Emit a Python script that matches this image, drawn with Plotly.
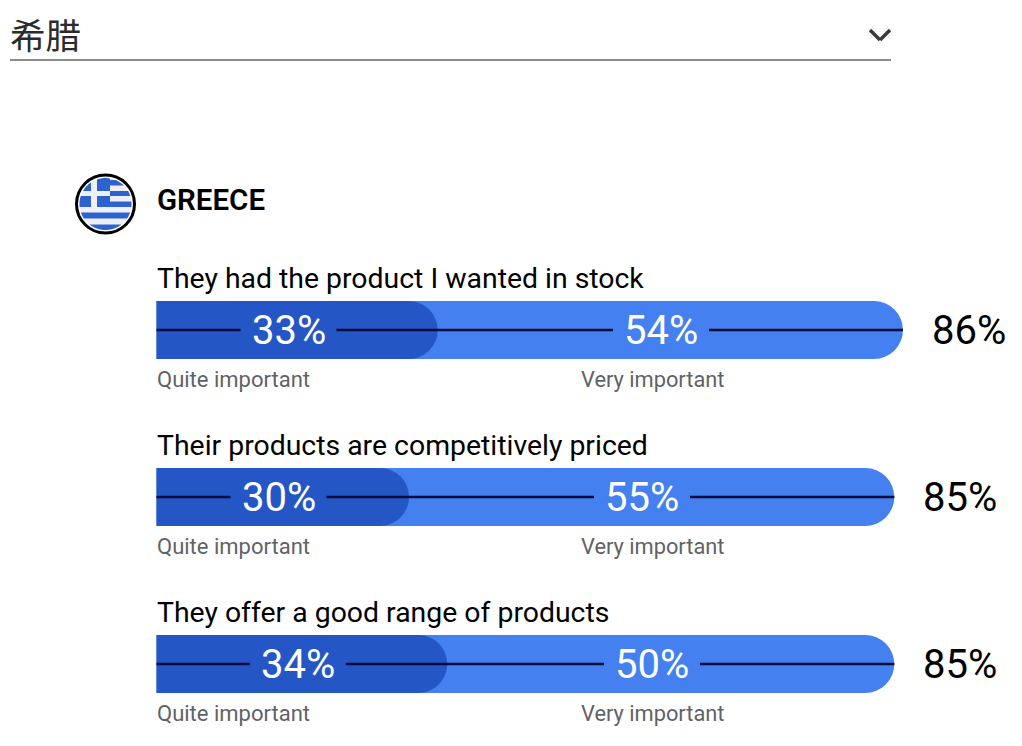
import math
import plotly.graph_objects as go

# ---- data ----
questions = ["They had the product I wanted in stock",
             "Their products are competitively priced",
             "They offer a good range of products"]
quite_labels = [33, 30, 34]
very_labels = [54, 55, 50]
total_labels = [86, 85, 85]
quite_bar = [32.4, 29.1, 33.5]      # bar length
total_bar = [86, 85, 85]
rows = [0, 1, 2]

# ---- layout (not data) ----
PAGE = 8               # the page's own margin round the figure
W, H = 1022 - PAGE, 746 - PAGE
X0, PX = 156.5 - PAGE, 8.68   # figure pixel of 0 %, pixels per %
Y0, DY = 330 - PAGE, 167      # figure pixel of the first row, pixels per row
BAR_H = 58
FONT = "Roboto"
CJK = "Noto Sans CJK SC"
DARK, BLUE = "#2457C5", "#4480F0"
INK = "#000000"
LINE = "#000A3C"
GREY = "#5F6368"
quite_center_px = [288.5, 278.5, 298]
very_center_px = [661, 642, 652]
GAP = 48


def xd(px):
    return (px - PAGE - X0) / PX


def pxx(px):
    return (px - PAGE) / W


def pxy(py):
    return 1 - (py - PAGE) / H


fig = go.Figure()
fig.add_bar(y=rows, x=total_bar, orientation="h", width=BAR_H / DY,
            marker=dict(color=BLUE, cornerradius=BAR_H / 2, line_width=0),
            hoverinfo="skip")
fig.add_bar(y=rows, x=quite_bar, orientation="h", width=BAR_H / DY, xaxis="x2", yaxis="y2",
            marker=dict(color=DARK, cornerradius=BAR_H / 2, line_width=0),
            hoverinfo="skip")

# leader lines with gaps for the value labels
lx, ly = [], []
for r, t, qc, vc in zip(rows, total_bar, quite_center_px, very_center_px):
    for a, b in ((0, xd(qc - GAP)), (xd(qc + GAP), xd(vc - GAP)), (xd(vc + GAP), t)):
        lx += [a, b, None]
        ly += [r, r, None]
fig.add_scatter(x=lx, y=ly, xaxis="x2", yaxis="y2", mode="lines",
                line=dict(color=LINE, width=2.5), hoverinfo="skip")

ann = []


def text(x, y, s, size, color=INK, anchor="left", family=FONT, xref="x", yref="y", weight=None):
    ann.append(dict(x=x, y=y, text=s, xref=xref, yref=yref, showarrow=False,
                    xanchor=anchor, yanchor="middle",
                    font=dict(size=size, color=color, family=family, weight=weight)))


for r, q, a, b, c, qc, vc, t in zip(rows, questions, quite_labels, very_labels, total_labels,
                                    quite_center_px, very_center_px, total_bar):
    text(-2 / PX, r - 52 / DY, q, 28.4)
    text(xd(qc), r, f"{a}%", 40, "#FFFFFF", "center")
    text(xd(vc), r, f"{b}%", 40, "#FFFFFF", "center")
    text(t + 27 / PX, r, f"{c}%", 40)
    text(-2 / PX, r + 49 / DY, "Quite important", 22, GREY)
    text(xd(579), r + 49 / DY, "Very important", 21.8, GREY)

text(pxx(8), pxy(34), "希腊", 35.5, "#2B2B2B", family=CJK, xref="paper", yref="paper")
text(pxx(155), pxy(200), "GREECE", 29.5, INK, xref="paper", yref="paper", weight=600)

shapes = []


def line(x0, y0, x1, y1, color, width):
    shapes.append(dict(type="line", xref="paper", yref="paper", x0=pxx(x0), y0=pxy(y0),
                       x1=pxx(x1), y1=pxy(y1), line=dict(color=color, width=width)))


def poly(pts, color):
    d = "M " + " L ".join(f"{pxx(x):.5f},{pxy(y):.5f}" for x, y in pts) + " Z"
    shapes.append(dict(type="path", xref="paper", yref="paper", path=d,
                       fillcolor=color, line_width=0))


line(10, 60, 891, 60, "#8C8C8C", 2)
line(870, 30, 880, 40, "#3C3C3C", 3.5)
line(880, 40, 890, 30, "#3C3C3C", 3.5)

# flag badge
CX, CY, R = 105.5, 204, 26
FLAG = "#2E62D0"
PALE = "#EEF0F6"
shapes.append(dict(type="circle", xref="paper", yref="paper",
                   x0=pxx(CX - 29), x1=pxx(CX + 29), y0=pxy(CY + 29), y1=pxy(CY - 29),
                   fillcolor="#FFFFFF", line=dict(color="#000000", width=3)))


def clipped_rect(x0, y0, x1, y1):
    """Rectangle intersected with the flag circle, as a polygon."""
    n = 30
    right, left = [], []
    for i in range(n + 1):
        y = y0 + (y1 - y0) * i / n
        half = math.sqrt(max(R * R - (y - CY) ** 2, 0))
        a = max(CX - half, x0)
        b = min(CX + half, x1)
        if b < a:
            a = b = (a + b) / 2
        right.append((b, y))
        left.append((a, y))
    return right + left[::-1]


poly(clipped_rect(70, 170, 140, 240), PALE)
for x0_, y0_, x1_, y1_ in ((110, 180, 140, 185.5), (110, 191, 140, 196),
                           (110, 201.5, 140, 207), (70, 212.5, 140, 218.5),
                           (70, 224.5, 140, 232),
                           (78, 175, 91, 191), (78, 196, 91, 207),
                           (97, 175, 110, 191), (97, 196, 110, 207)):
    poly(clipped_rect(x0_, y0_, x1_, y1_), FLAG)

hidden = dict(visible=False, fixedrange=True)
xr = [-X0 / PX, (W - X0) / PX]
yr = [(H - Y0) / DY, -Y0 / DY]
fig.update_layout(
    width=W, height=H, autosize=False, barmode="overlay", showlegend=False,
    margin=dict(l=0, r=0, t=0, b=0), paper_bgcolor="#FFFFFF", plot_bgcolor="#FFFFFF",
    annotations=ann, shapes=shapes,
    xaxis=dict(range=xr, **hidden),
    yaxis=dict(range=yr, **hidden),
    xaxis2=dict(range=xr, overlaying="x", **hidden),
    yaxis2=dict(range=yr, overlaying="y", **hidden),
)
fig.write_html("out.html", config={"displayModeBar": False})
